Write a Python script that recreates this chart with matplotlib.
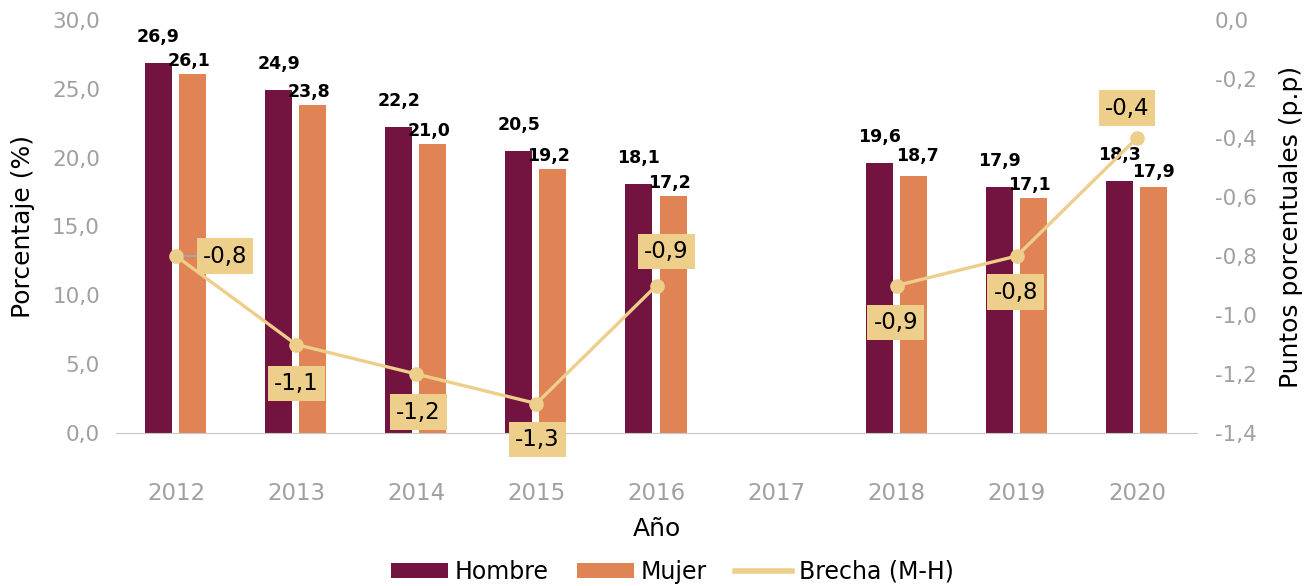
import numpy as np
import matplotlib
matplotlib.use("Agg")
import matplotlib.pyplot as plt
from matplotlib.ticker import FuncFormatter
from matplotlib.lines import Line2D

years = ["2012", "2013", "2014", "2015", "2016", "2017", "2018", "2019", "2020"]
hombre = [26.9, 24.9, 22.2, 20.5, 18.1, np.nan, 19.6, 17.9, 18.3]
mujer = [26.1, 23.8, 21.0, 19.2, 17.2, np.nan, 18.7, 17.1, 17.9]
brecha = [-0.8, -1.1, -1.2, -1.3, -0.9, np.nan, -0.9, -0.8, -0.4]

C_H = "#721340"
C_M = "#E08455"
C_B = "#EDCE8A"
GRAY = "#A0A0A0"

def fmt(v):
    return f"{v:.1f}".replace(".", ",")

plt.rcParams["font.family"] = ["DejaVu Sans"]

fig = plt.figure(figsize=(13.11, 5.86), dpi=100)
ax = fig.add_axes([116/1311, 1-433/586, (1197-116)/1311, (433-20)/586])
ax2 = ax.twinx()

x = np.arange(len(years))
bw = 0.225
bh = ax.bar(x - 0.146, hombre, width=bw, color=C_H, label="Hombre", zorder=2)
bm = ax.bar(x + 0.1375, mujer, width=bw, color=C_M, label="Mujer", zorder=2)

# bar labels (pixel offsets)
h_off = {i: (0, 26) for i in range(len(years))}
m_off = {i: (-4, 13) for i in range(len(years))}
m_off[8] = (0, 15)
m_off[6] = (4, 20)
for i in range(len(years)):
    if not np.isnan(hombre[i]):
        ax.annotate(fmt(hombre[i]), (x[i] - 0.146, hombre[i]), xytext=h_off[i],
                    textcoords="offset pixels", ha="center", va="center",
                    fontsize=12.5, fontweight="bold", color="black", zorder=5)
    if not np.isnan(mujer[i]):
        ax.annotate(fmt(mujer[i]), (x[i] + 0.1375, mujer[i]), xytext=m_off[i],
                    textcoords="offset pixels", ha="center", va="center",
                    fontsize=12.5, fontweight="bold", color="black", zorder=5)

ax.set_ylim(0, 30)
ax.set_xlim(-0.5, len(years) - 0.5)
ax.set_yticks(np.arange(0, 30.1, 5))
ax.yaxis.set_major_formatter(FuncFormatter(lambda v, p: fmt(v)))
ax.set_xticks(x)
ax.set_xticklabels(years)
ax.tick_params(axis="x", length=0, pad=35, labelsize=16.5, labelcolor=GRAY)
ax.tick_params(axis="y", length=0, pad=11.5, labelsize=15.5, labelcolor=GRAY)
for s in ["top", "left", "right"]:
    ax.spines[s].set_visible(False)
ax.spines["bottom"].set_color("#C8C8C8")
ax.set_ylabel("Porcentaje (%)", fontsize=18, labelpad=12)
ax.set_xlabel("Año", fontsize=18, labelpad=9)

# line
ln, = ax2.plot(x, brecha, color=C_B, lw=2.4, marker="o", markersize=9.5,
               label="Brecha (M-H)", zorder=3)
ax2.set_ylim(-1.4, 0)
ax2.set_yticks(np.arange(-1.4, 0.01, 0.2))
ax2.yaxis.set_major_formatter(FuncFormatter(lambda v, p: fmt(v) if abs(v) > 1e-9 else "0,0"))
ax2.tick_params(axis="y", length=0, pad=13, labelsize=15.5, labelcolor=GRAY)
for s in ["top", "left", "right", "bottom"]:
    ax2.spines[s].set_visible(False)
ax2.set_ylabel("Puntos porcentuales (p.p)", fontsize=18, labelpad=16)

b_off = {0: (49, 0), 1: (0, -39), 2: (2, -38), 3: (1, -36), 4: (10, 34),
         6: (-1, -37), 7: (-1, -36), 8: (-10, 30)}
for i, v in enumerate(brecha):
    if np.isnan(v):
        continue
    ap = dict(arrowstyle="-", color="#A6A6A6", lw=1.5, shrinkA=0, shrinkB=6) if i == 0 else None
    ax2.annotate(fmt(v), (x[i], v), xytext=b_off[i], textcoords="offset pixels",
                 ha="center", va="center", fontsize=16.5, color="black",
                 bbox=dict(boxstyle="square,pad=0.27", fc=C_B, ec="none"),
                 arrowprops=ap, zorder=6)

leg_line = Line2D([], [], color=C_B, lw=4)
fig.legend(handles=[bh, bm, leg_line], labels=["Hombre", "Mujer", "Brecha (M-H)"],
           loc="center", bbox_to_anchor=(0.513, 1-572/586), ncol=3, frameon=False,
           fontsize=17, handlelength=2.4, handleheight=0.6, columnspacing=1.2,
           handletextpad=0.3)

fig.savefig("out.png", dpi=100)
